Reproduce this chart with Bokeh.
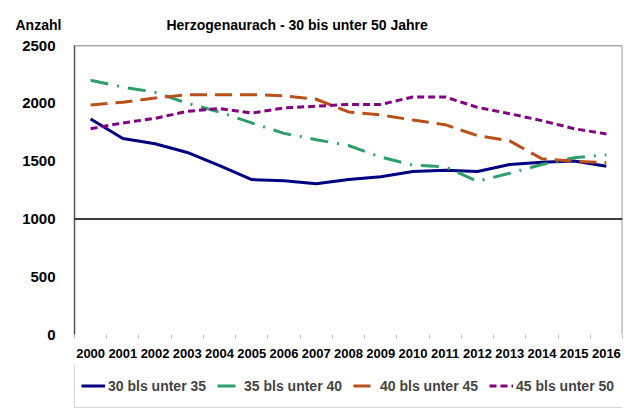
from bokeh.plotting import figure
from bokeh.layouts import column
from bokeh.models import FixedTicker, Span, Legend, LegendItem, Title, Range1d
from bokeh.embed import file_html
from bokeh.resources import INLINE

years = list(range(2000, 2017))
year_labels = [str(y) for y in years]
a30_35 = [1865, 1695, 1650, 1575, 1460, 1340, 1330, 1305, 1340, 1365, 1410, 1420, 1410, 1470, 1490, 1500, 1455]
a35_40 = [2200, 2140, 2095, 2000, 1925, 1830, 1740, 1685, 1635, 1535, 1465, 1450, 1325, 1395, 1470, 1530, 1555]
a40_45 = [1985, 2010, 2045, 2075, 2075, 2075, 2065, 2035, 1925, 1900, 1855, 1815, 1720, 1675, 1520, 1500, 1485]
a45_50 = [1780, 1830, 1870, 1930, 1955, 1915, 1960, 1975, 1990, 1990, 2055, 2055, 1965, 1910, 1850, 1780, 1735]
series = [a30_35, a35_40, a40_45, a45_50]
series_names = ["30 bls unter 35", "35 bls unter 40", "40 bls unter 45", "45 bls unter 50"]
y_ticks = [0, 500, 1000, 1500, 2000, 2500]
y_label = "Anzahl"
title_text = "Herzogenaurach - 30 bis unter 50 Jahre"

FONT = "Liberation Sans"
NB = "\u00a0"
styles = [dict(line_color="#000080", line_width=3),
          dict(line_color="#2E9E6B", line_width=3, line_dash="18 9 2 9"),
          dict(line_color="#B8501A", line_width=3, line_dash="17 8"),
          dict(line_color="#800080", line_width=3, line_dash="7 4")]

p = figure(frame_width=548, frame_height=289, output_backend="svg", toolbar_location=None,
           x_range=Range1d(years[0] - 0.5, years[-1] + 0.5), y_range=Range1d(0, 2500),
           min_border_left=74, min_border_right=7, min_border_top=45, min_border_bottom=31)
p.outline_line_color = None
p.xgrid.visible = False
p.ygrid.visible = False

# title line: "Anzahl" at left, chart title further right
p.add_layout(Title(text=y_label + NB * 27 + title_text, align="left", offset=-59,
                   text_font=FONT, text_font_style="bold", text_font_size="14px",
                   text_color="black", standoff=25), "above")

# axes
p.xaxis.ticker = FixedTicker(ticks=years, minor_ticks=[y - 0.5 for y in years] + [years[-1] + 0.5])
p.xaxis.major_label_overrides = {y: l for y, l in zip(years, year_labels)}
p.xaxis.axis_line_color = None
p.xaxis.major_tick_line_color = None
p.xaxis.minor_tick_out = 4
p.xaxis.minor_tick_in = 0
p.xaxis.minor_tick_line_color = "#c0c0c0"
p.xaxis.major_label_standoff = 8
p.xaxis.major_label_text_font = FONT
p.xaxis.major_label_text_font_style = "bold"
p.xaxis.major_label_text_font_size = "13px"
p.xaxis.major_label_text_color = "black"

p.yaxis.ticker = FixedTicker(ticks=y_ticks)
p.yaxis.axis_line_color = "#555555"
p.yaxis.axis_line_width = 1.5
p.yaxis.major_tick_line_color = None
p.yaxis.minor_tick_line_color = None
p.yaxis.major_label_standoff = 13
p.yaxis.major_label_text_font = FONT
p.yaxis.major_label_text_font_style = "bold"
p.yaxis.major_label_text_font_size = "15px"
p.yaxis.major_label_text_color = "black"

# frame lines
p.add_layout(Span(location=2500, dimension="width", line_color="#555555", line_width=1.5))
p.add_layout(Span(location=years[-1] + 0.5, dimension="height", line_color="#9a9a9a", line_width=2))
p.add_layout(Span(location=1000, dimension="width", line_color="black", line_width=1.5))

for data, st in zip(series, styles):
    p.line(years, data, **st)

# legend strip below the chart (its own lines lie outside its view, only the legend shows)
lg = figure(width=629, height=45, output_backend="svg", toolbar_location=None,
            x_range=Range1d(0, 1), y_range=Range1d(0, 1),
            x_axis_location=None, y_axis_location=None,
            min_border_left=0, min_border_right=0, min_border_top=0, min_border_bottom=0)
lg.outline_line_color = None
lg.xgrid.visible = False
lg.ygrid.visible = False
lrs = [lg.line(years, data, **st) for data, st in zip(series, styles)]

legend = Legend(items=[LegendItem(label=n, renderers=[r]) for n, r in zip(series_names, lrs)],
                orientation="horizontal", location=(0, 2),
                glyph_width=24, glyph_height=31, label_standoff=3, label_width=109,
                spacing=0, padding=6, margin=0,
                label_text_font=FONT, label_text_font_style="bold", label_text_font_size="14px",
                border_line_color="#aaaaaa", border_line_width=1.5)
lg.add_layout(legend)

layout = column(p, lg, spacing=0)
open("out.html", "w").write(file_html(layout, INLINE))
